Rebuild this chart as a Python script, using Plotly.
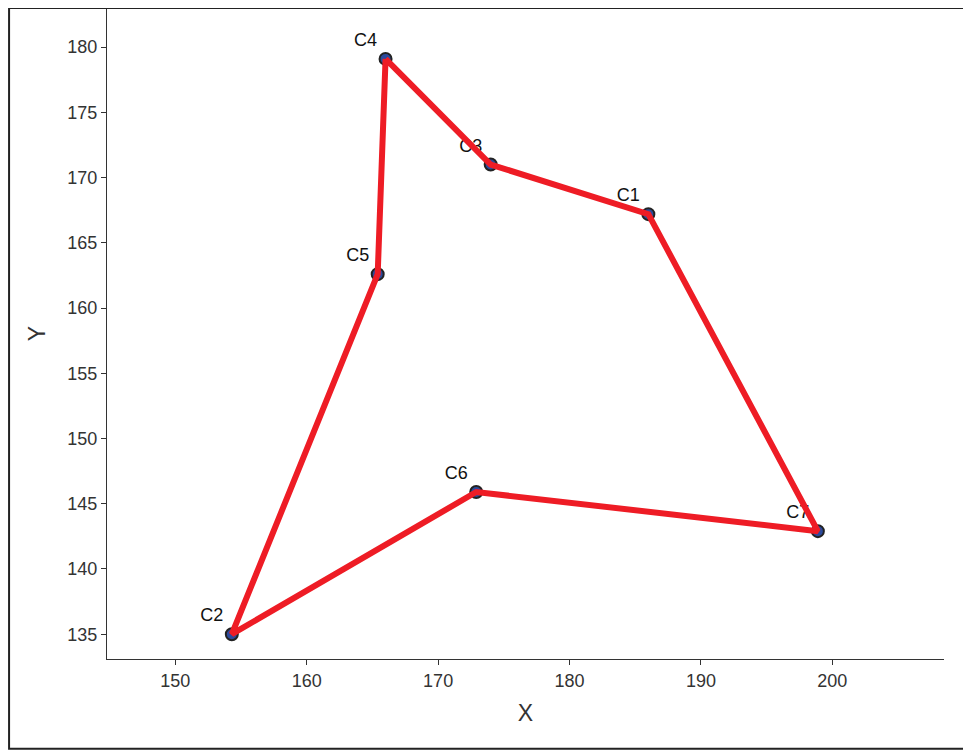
import plotly.graph_objects as go

names = ["C1", "C2", "C3", "C4", "C5", "C6", "C7"]
xs = [186.0, 154.3, 174.0, 166.0, 165.4, 172.9, 198.9]
ys = [167.2, 135.0, 171.0, 179.1, 162.6, 145.9, 142.9]
route = ["C4", "C3", "C1", "C7", "C6", "C2", "C5", "C4"]

idx = {n: i for i, n in enumerate(names)}
rx = [xs[idx[n]] for n in route]
ry = [ys[idx[n]] for n in route]

fig = go.Figure()
fig.add_trace(go.Scatter(
    x=xs, y=ys, mode="markers+text", text=names,
    textposition="top left",
    textfont=dict(size=18, color="#111"),
    marker=dict(size=12, color="#2b4a9c", line=dict(color="#222", width=2)),
    showlegend=False
))
fig.add_trace(go.Scatter(
    x=rx, y=ry, mode="lines",
    line=dict(color="#ee1c25", width=6),
    showlegend=False
))

axis_style = dict(
    showgrid=False, zeroline=False, showline=True, linecolor="#333", linewidth=1,
    ticks="outside", tickcolor="#333", tickfont=dict(size=18, color="#333"),
    title_font=dict(size=23, color="#333")
)
fig.update_xaxes(range=[144.8, 208.5], dtick=10, title_text="X", **axis_style)
fig.update_yaxes(range=[133.1, 183.0], dtick=5, title_text="Y", **axis_style)

# frame around the whole picture
fig.add_shape(type="rect", xref="paper", yref="paper",
              x0=-0.117, x1=1.031, y0=-0.138, y1=1.0,
              line=dict(color="#222", width=2))

fig.update_layout(
    width=971, height=751,
    margin=dict(l=99, r=35, t=0, b=100),
    plot_bgcolor="white", paper_bgcolor="white",
    font=dict(family="Liberation Sans, Arial, sans-serif")
)

fig.write_html("out.html")
